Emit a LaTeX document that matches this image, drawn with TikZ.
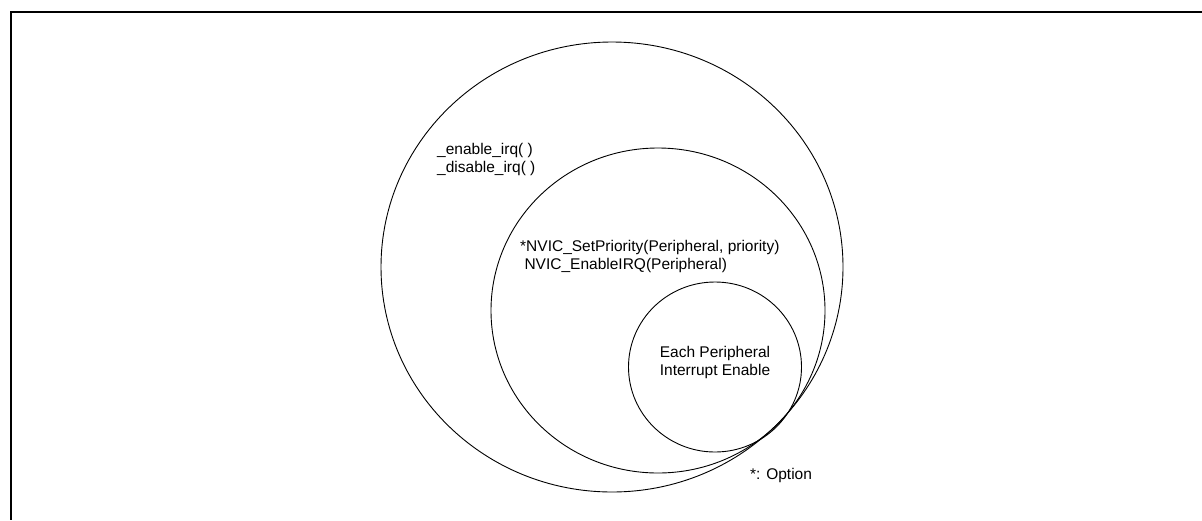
\documentclass[tikz,border=0pt]{standalone}
\usepackage{fontspec}
\setmainfont{Liberation Sans}
\usetikzlibrary{shapes.geometric}
\begin{document}
\begin{tikzpicture}[
    x=1pt, y=-1pt,
    ring/.style={ellipse, draw, line width=0.9pt, inner sep=0pt},
    label/.style={inner sep=0pt, align=left, anchor=west, font=\fontsize{15.5}{18}\selectfont},
    frame/.style={line width=2pt}
]
    \useasboundingbox (0,0) rectangle (1202,520);

    % Frame
    \draw[frame] (1202,12) -- (11,12) -- (11,520);

    % Nested levels
    \node[ring, minimum width=462pt, minimum height=450pt] (outer) at (612,267) {};
    \node[ring, minimum width=334pt, minimum height=325pt] (middle) at (658,310.5) {};
    \node[ring, minimum width=173pt, minimum height=170pt] (inner) at (715,367) {};

    % Level texts
    \node[label, align=center, anchor=center] (periph) at ([yshift=4.5pt]inner.center)
        {Each Peripheral\\Interrupt Enable};
    \node[label] (globalirq) at (437,159.5) {\_enable\_irq( )\\\_disable\_irq( )};
    \node[label] (nvic) at (520,256) {*NVIC\_SetPriority(Peripheral, priority)\\\hspace*{0.28em}NVIC\_EnableIRQ(Peripheral)};
    \node[label] (option) at (750,475) {*: Option};
\end{tikzpicture}
\end{document}
